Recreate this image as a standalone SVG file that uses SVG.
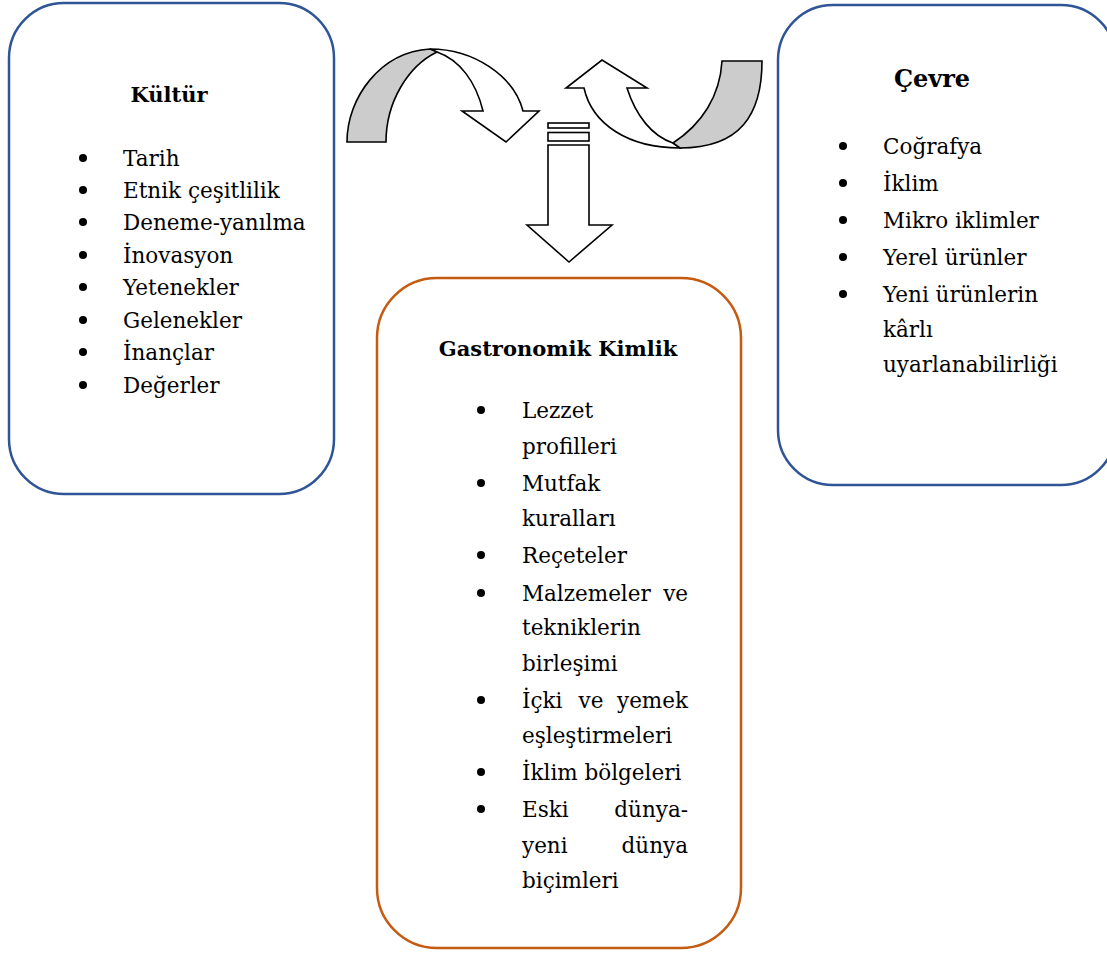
<svg xmlns="http://www.w3.org/2000/svg" width="1107" height="953" viewBox="0 0 1107 953">
  <style>
    .box { fill: #ffffff; stroke-width: 2.5; }
    .blue { stroke: #2F5597; }
    .orange { stroke: #C55A11; }
    text { font-family: 'DejaVu Serif', serif; fill: #000; }
    .title { font-weight: bold; font-size: 21px; }
    .item { font-size: 21.5px; }
    .bullet { fill: #000; }
    .shape { stroke: #000; stroke-width: 1.6; stroke-linejoin: miter; }
    .front { fill: #ffffff; }
    .back { fill: #cccccc; }
  </style>

  <!-- Culture box -->
  <g id="kultur">
    <rect class="box blue" x="9" y="3" width="325" height="491" rx="55" ry="55"/>
    <text class="title" x="169" y="102" text-anchor="middle">Kültür</text>
    <g class="bullet">
      <circle cx="83" cy="158" r="4"/>
      <circle cx="83" cy="190" r="4"/>
      <circle cx="83" cy="222" r="4"/>
      <circle cx="83" cy="255" r="4"/>
      <circle cx="83" cy="287" r="4"/>
      <circle cx="83" cy="320" r="4"/>
      <circle cx="83" cy="352" r="4"/>
      <circle cx="83" cy="385" r="4"/>
    </g>
    <text class="item" x="123" y="166">Tarih</text>
    <text class="item" x="123" y="198">Etnik çeşitlilik</text>
    <text class="item" x="123" y="230">Deneme-yanılma</text>
    <text class="item" x="123" y="263">İnovasyon</text>
    <text class="item" x="123" y="295">Yetenekler</text>
    <text class="item" x="123" y="328">Gelenekler</text>
    <text class="item" x="123" y="360">İnançlar</text>
    <text class="item" x="123" y="393">Değerler</text>
  </g>

  <!-- Environment box (runs past the right edge) -->
  <g id="cevre">
    <rect class="box blue" x="778" y="5" width="338" height="480" rx="55" ry="55"/>
    <text class="title" x="932" y="87" text-anchor="middle" style="font-size:24px">Çevre</text>
    <g class="bullet">
      <circle cx="843" cy="146" r="4"/>
      <circle cx="843" cy="183" r="4"/>
      <circle cx="843" cy="220" r="4"/>
      <circle cx="843" cy="257" r="4"/>
      <circle cx="843" cy="294" r="4"/>
    </g>
    <text class="item" x="883" y="154">Coğrafya</text>
    <text class="item" x="883" y="191">İklim</text>
    <text class="item" x="883" y="228">Mikro iklimler</text>
    <text class="item" x="883" y="265">Yerel ürünler</text>
    <text class="item" x="883" y="302">Yeni ürünlerin</text>
    <text class="item" x="883" y="337">kârlı</text>
    <text class="item" x="883" y="372">uyarlanabilirliği</text>
  </g>

  <!-- Gastronomic identity box -->
  <g id="gastronomik-kimlik">
    <rect class="box orange" x="377" y="278" width="364" height="670" rx="60" ry="60"/>
    <text class="title" x="558" y="356" text-anchor="middle">Gastronomik Kimlik</text>
    <g class="bullet">
      <circle cx="481" cy="410" r="4"/>
      <circle cx="481" cy="483" r="4"/>
      <circle cx="481" cy="555" r="4"/>
      <circle cx="481" cy="593" r="4"/>
      <circle cx="481" cy="700" r="4"/>
      <circle cx="481" cy="772" r="4"/>
      <circle cx="481" cy="809" r="4"/>
    </g>
    <text class="item" x="522" y="418">Lezzet</text>
    <text class="item" x="522" y="454">profilleri</text>
    <text class="item" x="522" y="491">Mutfak</text>
    <text class="item" x="522" y="526">kuralları</text>
    <text class="item" x="522" y="563">Reçeteler</text>
    <text class="item" x="522" y="601">Malzemeler</text>
    <text class="item" x="688" y="601" text-anchor="end">ve</text>
    <text class="item" x="522" y="635">tekniklerin</text>
    <text class="item" x="522" y="671">birleşimi</text>
    <text class="item" x="522" y="708">İçki</text>
    <text class="item" x="591" y="708" text-anchor="middle">ve</text>
    <text class="item" x="688" y="708" text-anchor="end">yemek</text>
    <text class="item" x="522" y="743">eşleştirmeleri</text>
    <text class="item" x="522" y="780">İklim bölgeleri</text>
    <text class="item" x="522" y="817">Eski</text>
    <text class="item" x="688" y="817" text-anchor="end">dünya-</text>
    <text class="item" x="522" y="853">yeni</text>
    <text class="item" x="688" y="853" text-anchor="end">dünya</text>
    <text class="item" x="522" y="888">biçimleri</text>
  </g>

  <!-- Connectors: curved block arrows and the downward striped arrow -->
  <g id="connectors">
    <!-- curved arrow from Kültür, turning down -->
    <path class="shape front" d="M430,49 C474,49 514,76 523,111 L539,111 L506,142 L462,111 L483,111 C476,82 460,60 437,52 Z"/>
    <path class="shape back" d="M347,142 C347,98 380,52 430,49 L437,52 C408,66 386,102 386,142 Z"/>
    <!-- curved arrow from Çevre, turning up -->
    <path class="shape front" d="M584,88 L566,88 L602,60 L647,88 L627,88 C636,116 652,136 673,143 L680,148 C628,148 592,124 584,88 Z"/>
    <path class="shape back" d="M673,143 C702,124 720,96 722,61 L762,61 C762,115 740,148 680,148 Z"/>
    <!-- striped down arrow into Gastronomik Kimlik -->
    <rect class="shape front" x="548" y="123" width="41" height="5"/>
    <rect class="shape front" x="548" y="132.5" width="41" height="8.5"/>
    <path class="shape front" d="M548,145 L589,145 L589,225 L612,225 L569,262 L527,225 L548,225 Z"/>
  </g>
</svg>
